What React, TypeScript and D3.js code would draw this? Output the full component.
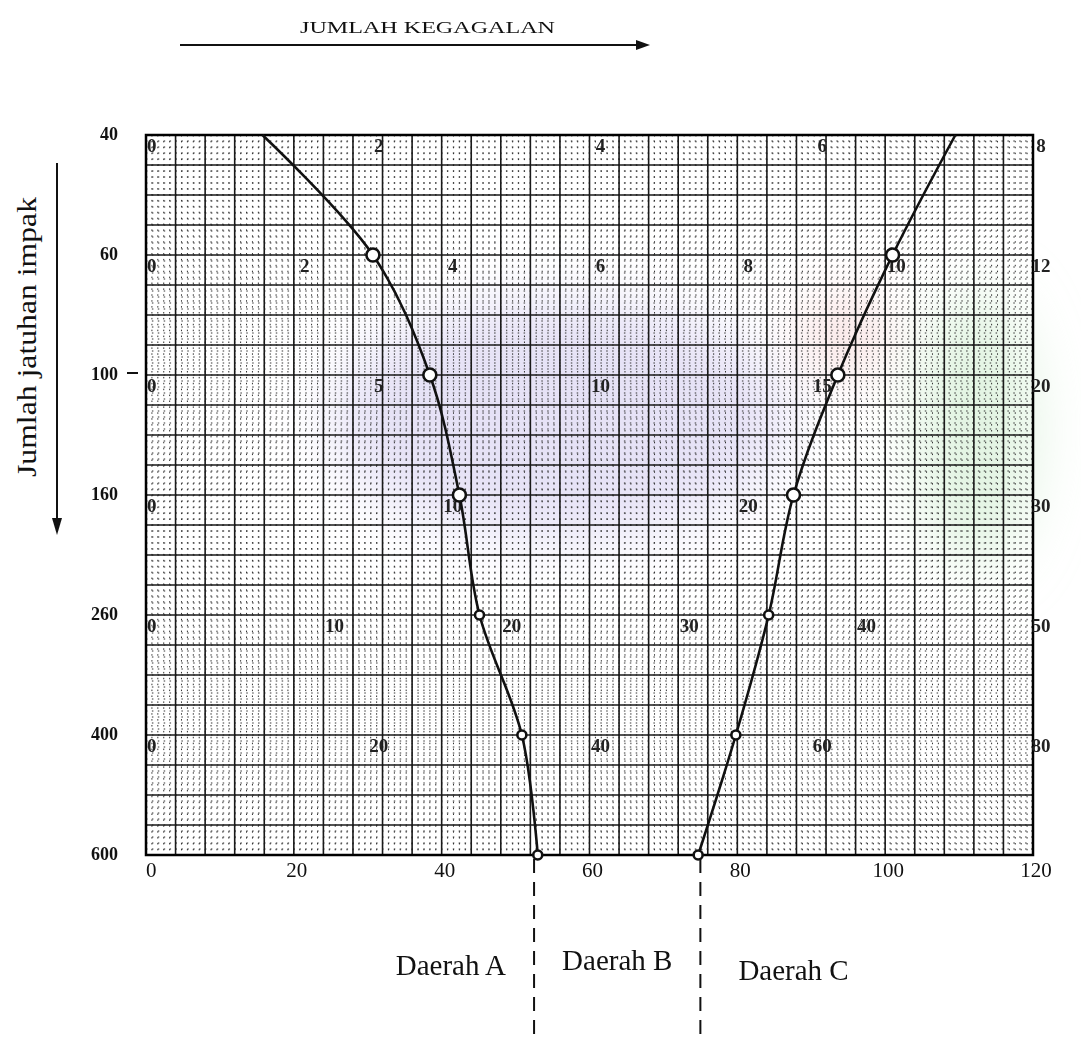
import React, { useEffect, useRef } from "react";
import * as d3 from "d3";

// rows of the nomogram (impact drops), each with its own failure scale
const rowLabels = ["40", "60", "100", "160", "260", "400", "600"];
const rowMax = [8, 12, 20, 30, 50, 80, 120];
const rowTicks = [
  [0, 2, 4, 6, 8],
  [0, 2, 4, 6, 8, 10, 12],
  [0, 5, 10, 15, 20],
  [0, 10, 20, 30],
  [0, 10, 20, 30, 40, 50],
  [0, 20, 40, 60, 80],
  [0, 20, 40, 60, 80, 100, 120],
];

// curve readings, one value per row in that row's units
const curveA = [1.05, 3.07, 6.4, 10.6, 18.8, 33.9, 53];
const curveC = [7.3, 10.1, 15.6, 21.9, 35.1, 53.2, 74.7];

// region borders on the bottom (0-120) scale
const regionBounds = [52.5, 75];
const regionNames = ["Daerah A", "Daerah B", "Daerah C"];

const App = () => {
  const svgRef = useRef<SVGSVGElement>(null);

  useEffect(() => {
    document.body.style.margin = "0";
    const width = 1081;
    const height = 1052;
    const left = 146;
    const right = 1033;
    const top = 135;
    const bottom = 855;

    const svg = d3.select(svgRef.current);
    svg.selectAll("*").remove();
    svg.attr("width", width).attr("height", height);

    const serif = "'Liberation Serif', 'Times New Roman', serif";

    const y = d3.scalePoint<string>().domain(rowLabels).range([top, bottom]);
    const xBottom = d3.scaleLinear().domain([0, 120]).range([left, right]);
    const xRow = rowMax.map((m) => d3.scaleLinear().domain([0, m]).range([left, right]));

    // scanner colour smudges
    const defs = svg.append("defs");
    defs
      .append("filter")
      .attr("id", "blur")
      .attr("x", "-50%")
      .attr("y", "-50%")
      .attr("width", "200%")
      .attr("height", "200%")
      .append("feGaussianBlur")
      .attr("stdDeviation", 30);

    const smudge = svg.append("g").attr("filter", "url(#blur)");
    smudge.append("ellipse").attr("cx", 560).attr("cy", 420).attr("rx", 230).attr("ry", 120).attr("fill", "#dcd6f2").attr("opacity", 0.7);
    smudge.append("ellipse").attr("cx", 845).attr("cy", 335).attr("rx", 40).attr("ry", 40).attr("fill", "#f6d3d3").attr("opacity", 0.7);
    smudge.append("ellipse").attr("cx", 975).attr("cy", 430).attr("rx", 60).attr("ry", 140).attr("fill", "#d6efd6").attr("opacity", 0.7);

    // graph paper
    const step = y.step();
    const grid = svg.append("g");
    const minorX = d3.range(0, 120.001, 0.8);
    const minorY = d3.range(top, bottom + 0.1, step / 20);
    grid
      .selectAll("line.mx")
      .data(minorX)
      .join("line")
      .attr("x1", (d) => xBottom(d))
      .attr("x2", (d) => xBottom(d))
      .attr("y1", top)
      .attr("y2", bottom)
      .attr("stroke", "#333")
      .attr("stroke-width", 1)
      .attr("stroke-dasharray", "1.5,4.4");
    grid
      .selectAll("line.my")
      .data(minorY)
      .join("line")
      .attr("x1", left)
      .attr("x2", right)
      .attr("y1", (d) => d)
      .attr("y2", (d) => d)
      .attr("stroke", "#333")
      .attr("stroke-width", 1)
      .attr("stroke-dasharray", "1.5,4.4");

    grid
      .selectAll("line.vx")
      .data(d3.range(0, 120.001, 4))
      .join("line")
      .attr("x1", (d) => xBottom(d))
      .attr("x2", (d) => xBottom(d))
      .attr("y1", top)
      .attr("y2", bottom)
      .attr("stroke", "#1a1a1a")
      .attr("stroke-width", 1.6);
    grid
      .selectAll("line.hy")
      .data(d3.range(top, bottom + 0.1, step / 4))
      .join("line")
      .attr("x1", left)
      .attr("x2", right)
      .attr("y1", (d) => d)
      .attr("y2", (d) => d)
      .attr("stroke", "#1a1a1a")
      .attr("stroke-width", 1.6);
    grid
      .append("rect")
      .attr("x", left)
      .attr("y", top)
      .attr("width", right - left)
      .attr("height", bottom - top)
      .attr("fill", "none")
      .attr("stroke", "#000")
      .attr("stroke-width", 2.5);

    // row scale labels inside the paper
    rowLabels.forEach((r, i) => {
      if (i === rowLabels.length - 1) return;
      const ry = y(r)! + 17;
      svg
        .append("g")
        .selectAll("text")
        .data(rowTicks[i])
        .join("text")
        .attr("x", (d) => (d === 0 ? left + 1 : d === rowMax[i] ? right + 8 : xRow[i](d) + 11))
        .attr("y", ry)
        .attr("text-anchor", (d) => (d === 0 ? "start" : "middle"))
        .attr("font-family", serif)
        .attr("font-weight", "bold")
        .attr("font-size", 19)
        .attr("fill", "#222")
        .text((d) => d);
    });

    // bottom axis labels
    svg
      .append("g")
      .selectAll("text")
      .data(rowTicks[rowTicks.length - 1])
      .join("text")
      .attr("x", (d) => xBottom(d) + (d === 0 ? 0 : 3))
      .attr("y", bottom + 22)
      .attr("text-anchor", (d) => (d === 0 ? "start" : "middle"))
      .attr("font-family", serif)
      .attr("font-size", 21)
      .attr("fill", "#111")
      .text((d) => d);

    // left row labels
    svg
      .append("g")
      .selectAll("text")
      .data(rowLabels)
      .join("text")
      .attr("x", 118)
      .attr("y", (d) => y(d)! + 5)
      .attr("text-anchor", "end")
      .attr("font-family", serif)
      .attr("font-weight", "bold")
      .attr("font-size", 18)
      .attr("fill", "#111")
      .text((d) => d);
    svg
      .append("line")
      .attr("x1", 127)
      .attr("x2", 138)
      .attr("y1", y("100")! - 2)
      .attr("y2", y("100")! - 2)
      .attr("stroke", "#111")
      .attr("stroke-width", 2);

    // curves
    const line = d3
      .line<number>()
      .x((d, i) => xRow[i](d))
      .y((d, i) => y(rowLabels[i])!)
      .curve(d3.curveCatmullRom.alpha(0.5));

    [curveA, curveC].forEach((c) => {
      svg
        .append("path")
        .datum(c)
        .attr("fill", "none")
        .attr("stroke", "#111")
        .attr("stroke-width", 2.6)
        .attr("d", line);
      svg
        .append("g")
        .selectAll("circle")
        .data(c.slice(1))
        .join("circle")
        .attr("cx", (d, i) => xRow[i + 1](d))
        .attr("cy", (d, i) => y(rowLabels[i + 1])!)
        .attr("r", (d, i) => (i < 3 ? 6.5 : 4.5))
        .attr("fill", "#fff")
        .attr("stroke", "#111")
        .attr("stroke-width", 2.6);
    });

    // region borders and names
    regionBounds.forEach((b) => {
      svg
        .append("line")
        .attr("x1", xBottom(b))
        .attr("x2", xBottom(b))
        .attr("y1", bottom + 4)
        .attr("y2", 1040)
        .attr("stroke", "#111")
        .attr("stroke-width", 2)
        .attr("stroke-dasharray", "14,9");
    });
    const bx = regionBounds.map((b) => xBottom(b));
    const regionPos = [
      { x: bx[0] - 28, y: 975, anchor: "end" },
      { x: (bx[0] + bx[1]) / 2, y: 970, anchor: "middle" },
      { x: bx[1] + 38, y: 980, anchor: "start" },
    ];
    regionNames.forEach((n, i) => {
      svg
        .append("text")
        .attr("x", regionPos[i].x)
        .attr("y", regionPos[i].y)
        .attr("text-anchor", regionPos[i].anchor)
        .attr("font-family", serif)
        .attr("font-size", 29)
        .attr("fill", "#111")
        .text(n);
    });

    // titles with arrows
    svg
      .append("text")
      .attr("x", 300)
      .attr("y", 33)
      .attr("textLength", 255)
      .attr("lengthAdjust", "spacingAndGlyphs")
      .attr("font-family", serif)
      .attr("font-size", 17)
      .attr("fill", "#111")
      .text("JUMLAH KEGAGALAN");
    svg.append("line").attr("x1", 180).attr("x2", 640).attr("y1", 45).attr("y2", 45).attr("stroke", "#111").attr("stroke-width", 2);
    svg.append("path").attr("d", "M636,40 L650,45 L636,50 Z").attr("fill", "#111");

    svg
      .append("text")
      .attr("transform", "translate(36,337) rotate(-90)")
      .attr("text-anchor", "middle")
      .attr("textLength", 280)
      .attr("lengthAdjust", "spacingAndGlyphs")
      .attr("font-family", serif)
      .attr("font-size", 27)
      .attr("fill", "#111")
      .text("Jumlah jatuhan impak");
    svg.append("line").attr("x1", 57).attr("x2", 57).attr("y1", 163).attr("y2", 522).attr("stroke", "#111").attr("stroke-width", 2);
    svg.append("path").attr("d", "M52,518 L57,535 L62,518 Z").attr("fill", "#111");
  }, []);

  return <svg ref={svgRef} style={{ display: "block" }}></svg>;
};

export default App;
